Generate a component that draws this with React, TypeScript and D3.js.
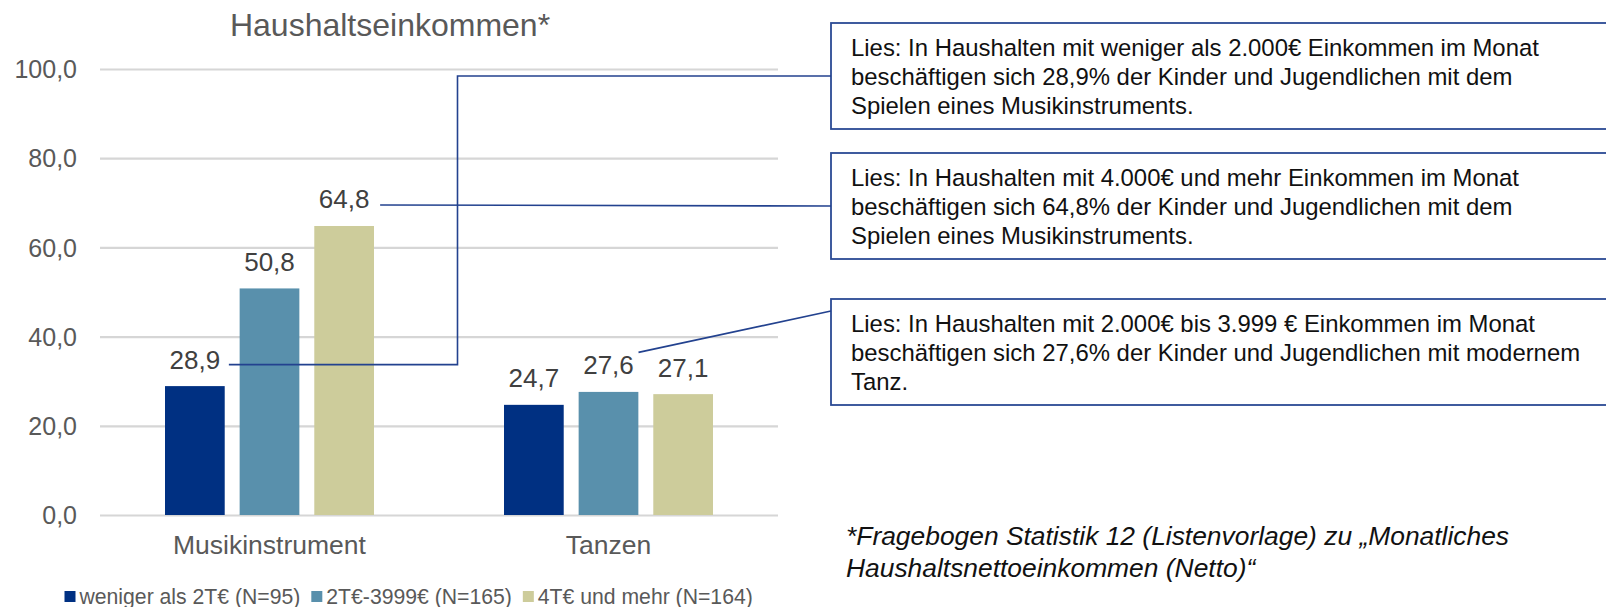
import { useEffect, useRef } from 'react';
import * as d3 from 'd3';

const categories = ['Musikinstrument', 'Tanzen'];
const series = ['weniger als 2T€ (N=95)', '2T€-3999€ (N=165)', '4T€ und mehr (N=164)'];
const lowIncome = [28.9, 24.7];
const midIncome = [50.8, 27.6];
const highIncome = [64.8, 27.1];
const yTicks = [0, 20, 40, 60, 80, 100];
const colors = ['#003082', '#5990AC', '#CDCC9B'];

const noteLines = [
  [
    'Lies: In Haushalten mit weniger als 2.000€ Einkommen im Monat',
    'beschäftigen sich 28,9% der Kinder und Jugendlichen mit dem',
    'Spielen eines Musikinstruments.',
  ],
  [
    'Lies: In Haushalten mit 4.000€ und mehr Einkommen im Monat',
    'beschäftigen sich 64,8% der Kinder und Jugendlichen mit dem',
    'Spielen eines Musikinstruments.',
  ],
  [
    'Lies: In Haushalten mit 2.000€ bis 3.999 € Einkommen im Monat',
    'beschäftigen sich 27,6% der Kinder und Jugendlichen mit modernem',
    'Tanz.',
  ],
];
const footnote = [
  '*Fragebogen Statistik 12 (Listenvorlage) zu „Monatliches',
  'Haushaltsnettoeinkommen (Netto)“',
];

const fmt = (v: number) => v.toFixed(1).replace('.', ',');

const App = () => {
  const ref = useRef<SVGSVGElement>(null);

  useEffect(() => {
    const svg = d3.select(ref.current);
    svg.selectAll('*').remove();
    const font = '"Liberation Sans", Arial, sans-serif';

    const values = [lowIncome, midIncome, highIncome];

    // scales
    const y = d3.scaleLinear().domain([0, 100]).range([515, 69]);
    const x0 = d3.scaleBand().domain(categories).range([100, 778]).paddingInner(0.3835).paddingOuter(0.19175);
    const x1 = d3.scaleBand().domain(series).range([0, x0.bandwidth()]).paddingInner(0.2).paddingOuter(0);

    // title
    svg.append('text').text('Haushaltseinkommen*')
      .attr('x', 390).attr('y', 36)
      .attr('text-anchor', 'middle')
      .style('font-family', font).style('font-size', '32px').attr('fill', '#595959');

    // grid + ticks
    const yAxis = d3.axisLeft(y).tickValues(yTicks).tickSize(-(778 - 100)).tickFormat(d => fmt(+d));
    const ga = svg.append('g').attr('transform', 'translate(100,0)').call(yAxis);
    ga.select('.domain').remove();
    ga.selectAll('.tick line').attr('stroke', '#D6D6D6').attr('stroke-width', 2.2);
    ga.selectAll('.tick text')
      .attr('x', -23).attr('dy', '0.35em')
      .style('font-family', font).style('font-size', '25px').attr('fill', '#595959');

    // bars
    const g = svg.append('g');
    categories.forEach((c, ci) => {
      series.forEach((s, si) => {
        const v = values[si][ci];
        const bx = (x0(c) as number) + (x1(s) as number);
        g.append('rect')
          .attr('x', bx).attr('y', y(v))
          .attr('width', x1.bandwidth()).attr('height', y(0) - y(v))
          .attr('fill', colors[si]);
        g.append('text').text(fmt(v))
          .attr('x', bx + x1.bandwidth() / 2).attr('y', y(v) - 17.5)
          .attr('text-anchor', 'middle')
          .style('font-family', font).style('font-size', '26px').attr('fill', '#404040');
      });
      g.append('text').text(c)
        .attr('x', (x0(c) as number) + x0.bandwidth() / 2).attr('y', 554)
        .attr('text-anchor', 'middle')
        .style('font-family', font).style('font-size', '26.5px').attr('fill', '#595959');
    });

    // annotation boxes
    const boxX = 831;
    const boxTops = [23, 153, 299];
    const boxH = 106;
    boxTops.forEach((t, i) => {
      svg.append('rect')
        .attr('x', boxX).attr('y', t).attr('width', 800).attr('height', boxH)
        .attr('fill', '#fff').attr('stroke', '#2B4A94').attr('stroke-width', 1.8);
      noteLines[i].forEach((l, li) => {
        svg.append('text').text(l)
          .attr('x', 851).attr('y', t + 33 + li * 29)
          .style('font-family', font).style('font-size', '23.9px').attr('fill', '#111');
      });
    });

    // leader lines
    const labelPt = (ci: number, si: number) => {
      const v = values[si][ci];
      const cx = (x0(categories[ci]) as number) + (x1(series[si]) as number) + x1.bandwidth() / 2;
      return { cx, base: y(v) - 17.5 };
    };
    const line = d3.line();
    const p1 = labelPt(0, 0);
    const p2 = labelPt(0, 2);
    const p3 = labelPt(1, 1);
    const leaders: [number, number][][] = [
      [[p1.cx + 34, p1.base - 4], [457.5, p1.base - 4], [457.5, boxTops[0] + 53], [boxX, boxTops[0] + 53]],
      [[p2.cx + 36, p2.base - 3.5], [boxX, boxTops[1] + 53]],
      [[p3.cx + 30, p3.base - 22], [boxX, boxTops[2] + 12]],
    ];
    leaders.forEach(pts => {
      svg.append('path').attr('d', line(pts))
        .attr('fill', 'none').attr('stroke', '#23428F').attr('stroke-width', 1.6);
    });

    // footnote
    footnote.forEach((l, i) => {
      svg.append('text').text(l)
        .attr('x', 846).attr('y', 545 + i * 32)
        .style('font-family', font).style('font-size', '26.4px').style('font-style', 'italic')
        .attr('fill', '#111');
    });

    // legend
    let lx = 64.5;
    series.forEach((s, i) => {
      svg.append('rect').attr('x', lx).attr('y', 591).attr('width', 11).attr('height', 11).attr('fill', colors[i]);
      const t = svg.append('text').text(s)
        .attr('x', lx + 15).attr('y', 604)
        .style('font-family', font).style('font-size', '21.2px').attr('fill', '#595959');
      const w = (t.node() as SVGTextElement).getComputedTextLength();
      lx = lx + 15 + w + 11;
    });
  }, []);

  return (
    <svg ref={ref} width={1606} height={607}
      style={{ position: 'absolute', left: 0, top: 0, background: '#fff' }} />
  );
};

export default App;
